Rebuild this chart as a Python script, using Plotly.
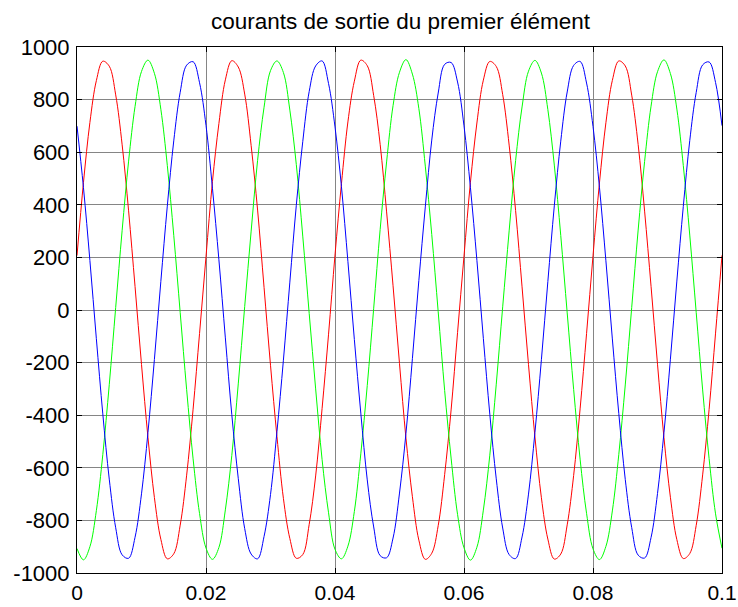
import plotly.graph_objects as go

# time samples in milliseconds (0 .. 100 ms)
t_ms = list(range(0, 101))
t = [v / 1000 for v in t_ms]

red = [207, 484, 713, 872, 946, 927, 818, 628, 377, 89, -207, -484, -713, -872, -946, -927, -818, -628, -377, -89,
       203, 488, 709, 875, 948, 924, 821, 625, 380, 86, -210, -481, -716, -869, -944, -930, -815, -631, -374, -92,
       209, 480, 715, 870, 950, 929, 815, 630, 373, 92, -204, -487, -710, -875, -948, -925, -820, -626, -380, -86,
       205, 486, 711, 874, 945, 926, 819, 627, 378, 88, -208, -483, -714, -871, -947, -928, -817, -629, -376, -90,
       206, 483, 712, 873, 947, 928, 817, 629, 376, 90, -206, -485, -712, -873, -945, -926, -819, -627, -378, -88,
       208]

green = [-907, -950, -900, -763, -550, -284, 10, 303, 566, 774, 907, 950, 900, 763, 550, 284, -10, -303, -566, -774,
         -905, -948, -903, -760, -553, -281, 13, 300, 569, 771, 910, 947, 903, 760, 553, 281, -13, -300, -569, -771,
         -910, -946, -898, -766, -547, -287, 7, 306, 563, 777, 904, 952, 897, 766, 547, 287, -7, -306, -563, -777,
         -904, -951, -902, -761, -552, -282, 12, 301, 568, 772, 908, 949, 901, 762, 551, 283, -11, -302, -567, -773,
         -908, -949, -899, -764, -549, -285, 9, 304, 565, 775, 906, 951, 899, 764, 549, 285, -9, -304, -565, -775,
         -906]

blue = [699, 466, 188, -109, -395, -643, -828, -931, -944, -864, -699, -466, -188, 109, 395, 643, 828, 931, 944, 864,
        702, 463, 191, -106, -398, -640, -831, -928, -946, -861, -702, -463, -191, 106, 398, 640, 831, 928, 947, 861,
        696, 469, 185, -112, -392, -646, -825, -934, -942, -867, -696, -469, -185, 112, 392, 646, 825, 934, 941, 867,
        700, 465, 189, -108, -396, -642, -829, -930, -945, -863, -700, -465, -189, 108, 396, 642, 829, 930, 945, 863,
        698, 467, 187, -110, -394, -644, -827, -932, -943, -865, -698, -467, -187, 110, 394, 644, 827, 932, 943, 865,
        701]

x_ticks = [0, 0.02, 0.04, 0.06, 0.08, 0.1]
x_labels = ["0", "0.02", "0.04", "0.06", "0.08", "0.1"]
y_ticks = [-1000, -800, -600, -400, -200, 0, 200, 400, 600, 800, 1000]
y_labels = [str(v) for v in y_ticks]

title = "courants de sortie du premier élément"

fig = go.Figure()
for vals, col in [(red, "#FF0000"), (green, "#00FF00"), (blue, "#0000FF")]:
    fig.add_trace(go.Scatter(x=t, y=vals, mode="lines",
                             line=dict(color=col, width=1, shape="spline", smoothing=1.0),
                             showlegend=False, hoverinfo="skip"))

font_family = "Liberation Sans, Arial, sans-serif"
axis_common = dict(
    showline=True, linecolor="black", linewidth=1, mirror="allticks",
    ticks="inside", ticklen=5, tickcolor="black", tickwidth=1,
    showgrid=True, gridcolor="#858585", gridwidth=1,
    zeroline=False, automargin=False,
)

fig.update_layout(
    width=738, height=607,
    margin=dict(l=77, r=16, t=47, b=34),
    paper_bgcolor="white", plot_bgcolor="white",
    title=dict(text=title, x=0.5427, xanchor="center", xref="container",
               y=(607 - 21) / 607, yanchor="middle", yref="container",
               font=dict(family=font_family, size=22.5, color="black")),
    xaxis=dict(range=[0, 0.1], tickvals=x_ticks, ticktext=x_labels,
               ticklabelstandoff=1,
               tickfont=dict(family=font_family, size=21, color="black"),
               **axis_common),
    yaxis=dict(range=[-1000, 1000], tickvals=y_ticks, ticktext=y_labels,
               ticklabelstandoff=2,
               tickfont=dict(family=font_family, size=22, color="black"),
               **axis_common),
)

fig.write_html("out.html")
